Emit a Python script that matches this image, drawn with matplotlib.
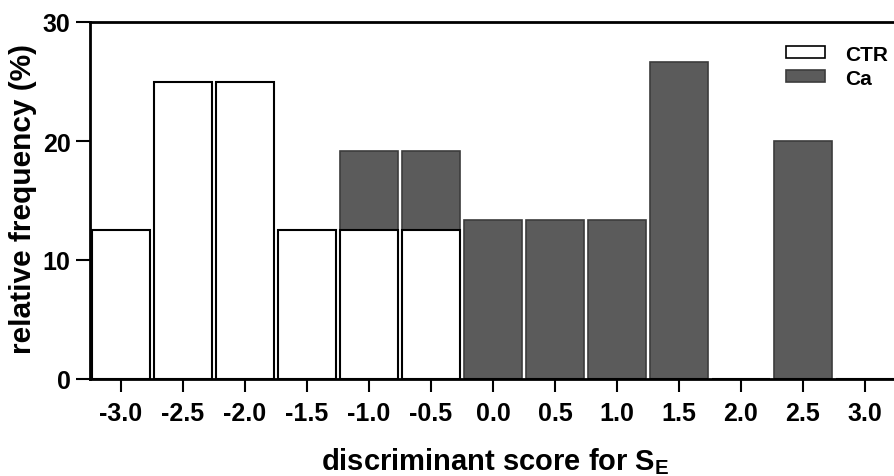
import matplotlib
matplotlib.use("Agg")
import matplotlib.pyplot as plt
from matplotlib.patches import Patch

plt.rcParams['font.family'] = ['Liberation Sans', 'DejaVu Sans']
plt.rcParams['font.weight'] = 'bold'
plt.rcParams['mathtext.fontset'] = 'custom'
plt.rcParams['mathtext.bf'] = 'Liberation Sans:bold'
plt.rcParams['mathtext.rm'] = 'Liberation Sans:bold'

scores = [-3.0, -2.5, -2.0, -1.5, -1.0, -0.5, 0.0, 0.5, 1.0, 1.5, 2.0, 2.5, 3.0]
ctr = [12.5, 25.0, 25.0, 12.5, 12.5, 12.5, 0, 0, 0, 0, 0, 0, 0]
ca = [0, 0, 0, 0, 6.67, 6.67, 13.33, 13.33, 13.33, 26.67, 0, 20.0, 0]
xtick_labels = ["-3.0", "-2.5", "-2.0", "-1.5", "-1.0", "-0.5", "0.0", "0.5", "1.0", "1.5", "2.0", "2.5", "3.0"]
yticks = [0, 10, 20, 30]

W, H = 894, 477
fig = plt.figure(figsize=(W / 100, H / 100), dpi=100)
ax = fig.add_axes([90 / W, 97 / H, 806 / W, 357 / H])

bw = 0.465
ax.bar(scores, ctr, width=bw, color='white', edgecolor='black', linewidth=1.5, zorder=3)
ax.bar(scores, ca, bottom=ctr, width=bw, color='#5b5b5b', edgecolor='#3c3c3c', linewidth=1.2, zorder=2)

ax.set_xlim(-3.25, 3.25)
ax.set_ylim(0, 30)
ax.set_xticks(scores)
ax.set_xticklabels(xtick_labels)
ax.set_yticks(yticks)
ax.tick_params(axis='x', labelsize=18, length=9, width=1.5, pad=7)
ax.tick_params(axis='y', labelsize=18, length=10, width=1.5, pad=4)
for lab in ax.get_xticklabels() + ax.get_yticklabels():
    lab.set_fontweight('bold')

for s in ['left', 'bottom', 'top']:
    ax.spines[s].set_linewidth(2)
ax.spines['right'].set_visible(False)

fig.text(23 / W, 1 - 199 / H, "relative frequency (%)", rotation=90, ha='center', va='center',
         fontsize=21.5, fontweight='bold')
fig.text(321 / W, 1 - 470 / H, r"discriminant score for S$_\mathbf{E}$", ha='left', va='baseline',
         fontsize=21, fontweight='bold')

handles = [Patch(facecolor='white', edgecolor='black', linewidth=1.2, label='CTR'),
           Patch(facecolor='#5b5b5b', edgecolor='#3c3c3c', linewidth=1.2, label='Ca')]
leg = ax.legend(handles=handles, loc='upper left', bbox_to_anchor=(771 / W, 1 - 31 / H),
                bbox_transform=fig.transFigure, frameon=False,
                handlelength=1.9, handleheight=0.5, labelspacing=0.25, handletextpad=0.95,
                borderpad=0.2, prop={'weight': 'bold', 'size': 15})

fig.savefig("out.png", dpi=100)
